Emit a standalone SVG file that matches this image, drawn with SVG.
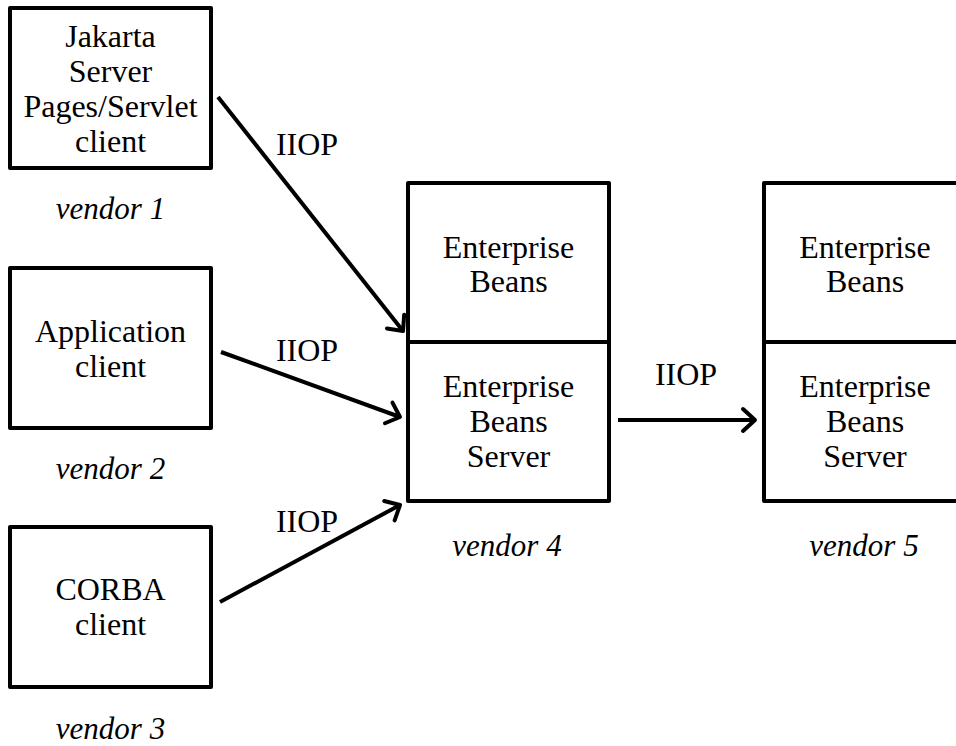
<svg xmlns="http://www.w3.org/2000/svg" width="956" height="746" viewBox="0 0 956 746">
<style>
.box{fill:#fff;stroke:#000;stroke-width:4;stroke-linejoin:round}
.t{font-family:'Liberation Serif','DejaVu Serif',serif;font-size:32px;fill:#000;text-anchor:middle}
.v{font-family:'Liberation Serif','DejaVu Serif',serif;font-size:31px;font-style:italic;fill:#000;text-anchor:middle}
.c{fill:none;stroke:#000;stroke-width:4}
</style>
<defs>
<marker id="ah" markerUnits="userSpaceOnUse" viewBox="-16 -14 20 28" refX="0" refY="0" markerWidth="20" markerHeight="28" orient="auto" overflow="visible">
<path d="M -12 -11 L 0 0 L -12 11" fill="none" stroke="#000" stroke-width="4" stroke-linejoin="round" stroke-linecap="round"/>
</marker>
</defs>
<rect width="956" height="746" fill="#fff"/>
<g id="jsp">
<rect class="box" x="10" y="8" width="201" height="160"/>
<text class="t" x="110.5" y="47">Jakarta</text>
<text class="t" x="110.5" y="82">Server</text>
<text class="t" x="110.5" y="117">Pages/Servlet</text>
<text class="t" x="110.5" y="152">client</text>
<text class="v" x="110.5" y="219">vendor 1</text>
</g>
<g id="app">
<rect class="box" x="10" y="268" width="201" height="160"/>
<text class="t" x="110.5" y="342">Application</text>
<text class="t" x="110.5" y="377">client</text>
<text class="v" x="110.5" y="479">vendor 2</text>
</g>
<g id="corba">
<rect class="box" x="10" y="527" width="201" height="160"/>
<text class="t" x="110.5" y="600">CORBA</text>
<text class="t" x="110.5" y="635">client</text>
<text class="v" x="110.5" y="739">vendor 3</text>
</g>
<g id="v4">
<rect class="box" x="408" y="183" width="201" height="318"/>
<line class="c" x1="408" y1="342" x2="609" y2="342"/>
<text class="t" x="508.5" y="258">Enterprise</text>
<text class="t" x="508.5" y="292">Beans</text>
<text class="t" x="508.5" y="397">Enterprise</text>
<text class="t" x="508.5" y="432">Beans</text>
<text class="t" x="508.5" y="467">Server</text>
<text class="v" x="507" y="556">vendor 4</text>
</g>
<g id="v5">
<rect class="box" x="764" y="183" width="201" height="318"/>
<line class="c" x1="764" y1="342" x2="965" y2="342"/>
<text class="t" x="865" y="258">Enterprise</text>
<text class="t" x="865" y="292">Beans</text>
<text class="t" x="865" y="397">Enterprise</text>
<text class="t" x="865" y="432">Beans</text>
<text class="t" x="865" y="467">Server</text>
<text class="v" x="864" y="556">vendor 5</text>
</g>
<g id="connectors">
<line class="c" x1="218" y1="97" x2="403" y2="331" marker-end="url(#ah)"/>
<line class="c" x1="221" y1="352" x2="400" y2="417" marker-end="url(#ah)"/>
<line class="c" x1="220" y1="602" x2="400" y2="505" marker-end="url(#ah)"/>
<line class="c" x1="618" y1="420" x2="755" y2="420" marker-end="url(#ah)"/>
<text class="t" x="307" y="155">IIOP</text>
<text class="t" x="307" y="361">IIOP</text>
<text class="t" x="307" y="532">IIOP</text>
<text class="t" x="686" y="385">IIOP</text>
</g>
</svg>
